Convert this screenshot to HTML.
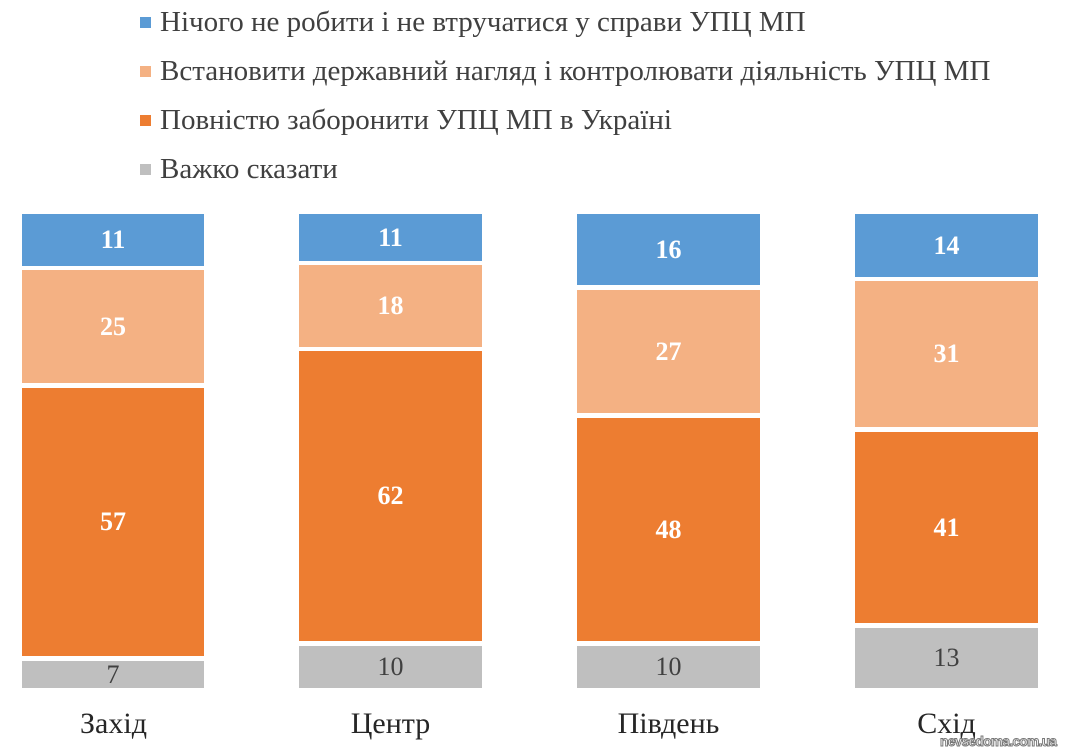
<!DOCTYPE html>
<html><head><meta charset="utf-8"><style>
body{margin:0;width:1068px;height:752px;background:#fff;position:relative;overflow:hidden;font-family:"Liberation Serif",serif;}
.a{position:absolute}
.lg{position:absolute;left:160px;font-size:29px;color:#404040;line-height:30px;white-space:nowrap}
.sq{position:absolute;left:140px;width:11px;height:11px}
.b{position:absolute;display:flex;align-items:center;justify-content:center;font-size:26px;font-weight:bold;color:#fff}
.g{font-weight:normal;color:#404040}
.cat{position:absolute;top:707px;font-size:30px;color:#262626;text-align:center;width:183px}
</style></head><body>
<div class="sq" style="top:17px;background:#5b9bd5"></div><div class="lg" style="top:7px">Нічого не робити і не втручатися у справи УПЦ МП</div>
<div class="sq" style="top:66px;background:#f4b183"></div><div class="lg" style="top:56px">Встановити державний нагляд і контролювати діяльність УПЦ МП</div>
<div class="sq" style="top:115px;background:#ed7d31"></div><div class="lg" style="top:105px">Повністю заборонити УПЦ МП в Україні</div>
<div class="sq" style="top:164px;background:#bfbfbf"></div><div class="lg" style="top:154px">Важко сказати</div>

<div class="b" style="left:22px;width:182px;top:214px;height:52px;background:#5b9bd5">11</div>
<div class="b" style="left:22px;width:182px;top:270px;height:113px;background:#f4b183">25</div>
<div class="b" style="left:22px;width:182px;top:388px;height:268px;background:#ed7d31">57</div>
<div class="b g" style="left:22px;width:182px;top:661px;height:27px;background:#bfbfbf">7</div>

<div class="b" style="left:299px;width:183px;top:214px;height:47px;background:#5b9bd5">11</div>
<div class="b" style="left:299px;width:183px;top:265px;height:82px;background:#f4b183">18</div>
<div class="b" style="left:299px;width:183px;top:351px;height:290px;background:#ed7d31">62</div>
<div class="b g" style="left:299px;width:183px;top:646px;height:42px;background:#bfbfbf">10</div>

<div class="b" style="left:577px;width:183px;top:214px;height:71px;background:#5b9bd5">16</div>
<div class="b" style="left:577px;width:183px;top:290px;height:123px;background:#f4b183">27</div>
<div class="b" style="left:577px;width:183px;top:418px;height:223px;background:#ed7d31">48</div>
<div class="b g" style="left:577px;width:183px;top:646px;height:42px;background:#bfbfbf">10</div>

<div class="b" style="left:855px;width:183px;top:214px;height:63px;background:#5b9bd5">14</div>
<div class="b" style="left:855px;width:183px;top:281px;height:146px;background:#f4b183">31</div>
<div class="b" style="left:855px;width:183px;top:432px;height:191px;background:#ed7d31">41</div>
<div class="b g" style="left:855px;width:183px;top:628px;height:60px;background:#bfbfbf">13</div>

<div class="cat" style="left:22px">Захід</div>
<div class="cat" style="left:299px">Центр</div>
<div class="cat" style="left:577px">Південь</div>
<div class="cat" style="left:855px">Схід</div>
<div class="a" style="left:940px;top:733px;font-family:'Liberation Sans',sans-serif;font-weight:bold;font-size:14px;color:#fff;-webkit-text-stroke:1px #777;letter-spacing:-0.7px;transform:scaleX(0.98);transform-origin:left">nevsedoma.com.ua</div>
</body></html>
